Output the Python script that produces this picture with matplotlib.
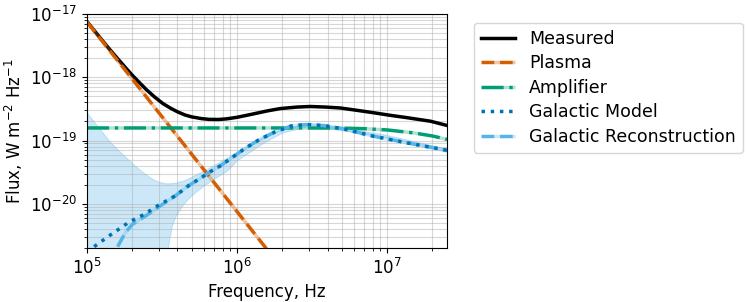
import matplotlib
matplotlib.use("Agg")
import matplotlib.pyplot as plt
from matplotlib.colors import to_rgba

# measured total spectrum
meas_freq = [1e5, 1.12e5, 1.25e5, 1.4e5, 1.6e5, 1.8e5, 2e5, 2.25e5, 2.5e5, 2.8e5,
             3.2e5, 3.6e5, 4e5, 4.5e5, 5e5, 5.8e5, 6.5e5, 7.5e5, 8.5e5, 1e6,
             1.25e6, 1.6e6, 1.94e6, 2.5e6, 3.07e6, 3.9e6, 4.86e6, 6.3e6, 8.1e6,
             1.05e7, 1.35e7, 1.94e7, 2.5e7]
meas_flux = [7.6e-18, 5.45e-18, 3.95e-18, 2.85e-18, 1.97e-18, 1.43e-18, 1.08e-18,
             8.1e-19, 6.3e-19, 4.95e-19, 3.85e-19, 3.25e-19, 2.85e-19, 2.53e-19, 2.36e-19,
             2.22e-19, 2.16e-19, 2.15e-19, 2.2e-19, 2.33e-19, 2.6e-19, 2.95e-19, 3.2e-19,
             3.38e-19, 3.45e-19, 3.38e-19, 3.27e-19, 3.0e-19, 2.75e-19, 2.5e-19, 2.3e-19,
             2.02e-19, 1.73e-19]

# plasma noise (power law)
plasma_freq = [1e5, 2e5, 5e5, 1e6, 2e6]
plasma_flux = [7.5e-18, 9.4e-19, 6.0e-20, 7.5e-21, 9.4e-22]

# amplifier noise
amp_freq = [1e5, 1e6, 3e6, 5e6, 7e6, 1e7, 1.5e7, 2e7, 2.5e7]
amp_flux = [1.58e-19, 1.58e-19, 1.58e-19, 1.57e-19, 1.54e-19, 1.47e-19, 1.32e-19,
            1.18e-19, 1.04e-19]

# galactic model
gal_freq = [1e5, 1.1e5, 1.4e5, 1.9e5, 2.4e5, 3e5, 3.9e5, 4.7e5, 6e5, 7e5, 7.7e5,
            1.1e6, 1.4e6, 1.8e6, 2.3e6, 2.9e6, 3.8e6, 5.1e6, 8.1e6, 1.35e7, 2.5e7]
gal_flux = [1.7e-21, 2.05e-21, 3.1e-21, 5.1e-21, 6.8e-21, 9.5e-21, 1.35e-20, 1.9e-20,
            2.75e-20, 3.5e-20, 3.95e-20, 7.2e-20, 1.03e-19, 1.38e-19, 1.70e-19, 1.79e-19,
            1.72e-19, 1.53e-19, 1.17e-19, 9.2e-20, 7.0e-20]

# galactic reconstruction
rec_freq = [1.6e5, 1.8e5, 2e5, 2.5e5, 3e5, 3.9e5, 4.7e5, 6e5, 7e5, 7.7e5,
            1.1e6, 1.4e6, 1.8e6, 2.3e6, 2.9e6, 3.8e6, 5.1e6, 8.1e6, 1.35e7, 2.5e7]
rec_flux = [2.1e-21, 3.5e-21, 4.7e-21, 6.6e-21, 8.9e-21, 1.35e-20, 1.9e-20,
            2.75e-20, 3.5e-20, 3.95e-20, 7.2e-20, 1.03e-19, 1.38e-19, 1.70e-19, 1.79e-19,
            1.72e-19, 1.53e-19, 1.17e-19, 9.2e-20, 7.0e-20]

# reconstruction uncertainty band
band_freq = [1e5, 1.12e5, 1.25e5, 1.4e5, 1.6e5, 1.85e5, 2.1e5, 2.4e5, 2.7e5, 3e5,
             3.3e5, 3.38e5, 3.45e5, 3.55e5, 3.67e5, 3.9e5, 4.3e5, 4.7e5, 5.2e5, 6e5,
             7e5, 8.5e5, 1e6, 1.5e6, 2e6, 3e6, 5e6, 1e7, 2.5e7]
band_hi = [2.73e-19, 1.95e-19, 1.40e-19, 1.0e-19, 7.2e-20, 5.2e-20, 3.94e-20, 3.05e-20,
           2.5e-20, 2.22e-20, 2.12e-20, 2.11e-20, 2.11e-20, 2.11e-20, 2.12e-20, 2.16e-20,
           2.3e-20, 2.5e-20, 2.85e-20, 3.35e-20, 4.1e-20, 5.3e-20, 6.6e-20, 1.15e-19,
           1.52e-19, 1.88e-19, 1.62e-19, 1.22e-19, 7.4e-20]
band_lo = [1e-22, 1e-22, 1e-22, 1e-22, 1e-22, 1e-22, 1e-22, 1e-22, 1e-22, 1e-22,
           1e-22, 1e-22, 1.9e-21, 3.0e-21, 4.5e-21, 6.5e-21, 9.4e-21, 1.2e-20, 1.5e-20,
           1.95e-20, 2.5e-20, 3.3e-20, 4.9e-20, 9.3e-20, 1.34e-19, 1.70e-19, 1.45e-19,
           1.13e-19, 6.6e-20]

c_plasma = '#D55E00'
c_amp = '#009E73'
c_gal = '#0072B2'
c_rec = '#56B4E9'

fig = plt.figure(figsize=(7.48, 3.02), dpi=100)
ax = fig.add_axes([0.1163, 0.1788, 0.4813, 0.7748])

ax.fill_between(band_freq, band_lo, band_hi, color=c_rec, alpha=0.3, lw=0.8)
ax.plot(meas_freq, meas_flux, color='black', lw=2.5, label='Measured')
ax.plot(plasma_freq, plasma_flux, color=c_plasma, lw=2.5, ls='--',
        gapcolor=to_rgba(c_plasma, 0.35), label='Plasma')
ax.plot(amp_freq, amp_flux, color=c_amp, lw=2.5, ls='-.',
        gapcolor=to_rgba(c_amp, 0.3), label='Amplifier')
ax.plot(rec_freq, rec_flux, color=c_rec, lw=2.5, ls='--',
        gapcolor=to_rgba(c_rec, 0.3), label='Galactic Reconstruction', zorder=2.1)
ax.plot(gal_freq, gal_flux, color=c_gal, lw=2.5, ls=':', label='Galactic Model', zorder=2.2)

ax.set_xscale('log')
ax.set_yscale('log')
ax.set_xlim(1e5, 2.5e7)
ax.set_ylim(2e-21, 1e-17)
ax.grid(which='both', color='#b0b0b0', alpha=0.5, lw=0.8)
ax.tick_params(labelsize=12)

ax.set_xlabel('Frequency, Hz', fontsize=12)
ax.set_ylabel(r'Flux, W m$^{-2}$ Hz$^{-1}$', fontsize=12)

handles, labels = ax.get_legend_handles_labels()
order = [0, 1, 2, 4, 3]
ax.legend([handles[i] for i in order], [labels[i] for i in order],
          loc='upper left', bbox_to_anchor=(1.05, 1), fontsize=12.5, labelspacing=0.38)

fig.savefig('out.png', dpi=100)
